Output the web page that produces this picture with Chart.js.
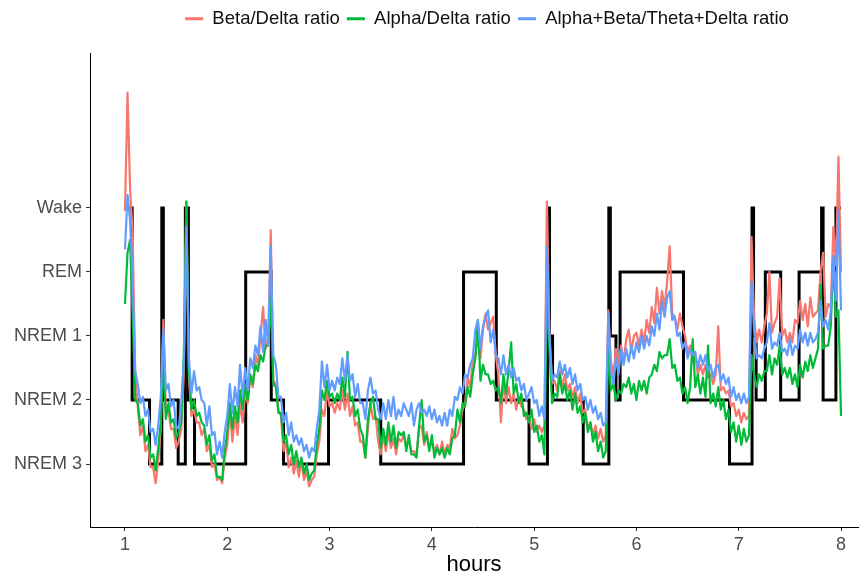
<!DOCTYPE html>
<html lang="en">
<head>
<meta charset="UTF-8">
<title>Sleep stages and EEG band ratios</title>
<script src="https://cdn.jsdelivr.net/npm/chart.js"></script>
<style>
  html, body { margin: 0; padding: 0; background: #fff; }
  #wrap { width: 868px; height: 574px; }
</style>
</head>
<body>
<div id="wrap"><canvas id="sleepChart" width="868" height="574"></canvas></div>
<script>
// y axis stages, bottom to top
var stageNames = ['NREM 3', 'NREM 2', 'NREM 1', 'REM', 'Wake'];
var hourTicks = [1, 2, 3, 4, 5, 6, 7, 8];

// hypnogram: time (hours) each stage starts
var stageHours = [1.00, 1.07, 1.24, 1.36, 1.375, 1.52, 1.59, 1.62, 1.68, 2.18,
                  2.43, 2.55, 2.99, 3.50, 4.31, 4.63, 4.95, 5.13, 5.15, 5.18,
                  5.48, 5.73, 5.745, 5.80, 5.84, 6.46, 6.91, 7.13, 7.145, 7.17,
                  7.26, 7.41, 7.59, 7.81, 7.825, 7.95, 8.00];
var stageSeq = ['Wake', 'NREM 2', 'NREM 3', 'Wake', 'NREM 2', 'NREM 3', 'Wake', 'NREM 2', 'NREM 3', 'REM',
                'NREM 2', 'NREM 3', 'NREM 2', 'NREM 3', 'REM', 'NREM 2', 'NREM 3', 'Wake', 'NREM 1', 'NREM 2',
                'NREM 3', 'Wake', 'NREM 1', 'NREM 2', 'REM', 'NREM 2', 'NREM 3', 'Wake', 'NREM 1', 'NREM 2',
                'REM', 'NREM 2', 'REM', 'Wake', 'NREM 2', 'Wake', 'Wake'];

// band ratios (on the stage scale), one sample every 1.5 min from hour 1
var sampleStart = 1;
var sampleStep = 0.025;

var betaDelta = [
  4.95, 6.80, 5.30, 4.60, 2.40, 1.90, 1.45, 1.60, 1.20, 1.30,
  0.95, 0.95, 0.70, 1.05, 1.55, 3.25, 1.80, 1.85, 1.55, 1.55,
  1.25, 1.35, 1.55, 2.40, 5.10, 2.35, 1.75, 1.85, 1.65, 1.65,
  1.45, 1.55, 1.20, 1.30, 0.95, 1.00, 0.75, 0.80, 0.70, 1.10,
  1.30, 1.85, 1.35, 1.75, 1.45, 1.95, 1.65, 2.10, 1.95, 2.35,
  2.20, 2.70, 2.55, 3.00, 3.45, 2.80, 2.95, 4.65, 2.30, 2.25,
  1.85, 1.75, 1.20, 1.35, 0.95, 1.10, 0.85, 1.05, 0.80, 1.05,
  0.75, 0.90, 0.65, 0.75, 0.80, 1.15, 1.35, 1.85, 1.75, 2.15,
  1.90, 1.95, 1.80, 1.95, 1.85, 2.15, 1.85, 2.10, 1.75, 1.90,
  1.60, 1.65, 1.35, 1.35, 1.10, 1.55, 1.95, 1.70, 1.75, 1.35,
  1.15, 1.45, 1.20, 1.50, 1.25, 1.40, 1.15, 1.40, 1.35, 1.45,
  1.30, 1.35, 1.20, 1.20, 1.15, 1.55, 1.60, 1.30, 1.50, 1.25,
  1.35, 1.20, 1.30, 1.15, 1.35, 1.15, 1.30, 1.25, 1.55, 1.40,
  1.45, 1.60, 1.85, 1.95, 2.35, 2.20, 2.60, 2.70, 2.95, 2.65,
  3.10, 3.35, 3.10, 3.20, 3.30, 2.70, 2.40, 1.65, 2.30, 1.95,
  2.20, 1.95, 2.10, 1.85, 2.05, 1.90, 1.85, 1.70, 1.75, 1.55,
  1.70, 1.50, 1.60, 1.50, 1.60, 5.10, 3.00, 2.25, 2.30, 2.15,
  2.45, 2.20, 2.40, 2.15, 2.25, 2.05, 2.20, 1.95, 2.10, 1.80,
  1.85, 1.55, 1.65, 1.45, 1.60, 1.40, 1.55, 1.35, 1.45, 3.40,
  2.60, 2.40, 2.80, 2.55, 2.85, 2.60, 2.95, 3.10, 2.75, 3.00,
  3.05, 2.85, 3.10, 2.90, 3.25, 3.05, 3.45, 3.20, 3.75, 3.35,
  3.70, 3.45, 3.85, 4.40, 3.35, 3.30, 3.10, 3.35, 3.15, 3.00,
  2.75, 2.85, 2.60, 2.70, 2.40, 2.55, 2.40, 2.55, 2.35, 2.40,
  2.25, 2.40, 3.15, 2.15, 2.20, 2.10, 2.15, 1.90, 1.95, 1.75,
  1.85, 1.65, 1.80, 1.70, 1.75, 4.55, 3.30, 2.90, 3.10, 2.90,
  3.15, 3.35, 4.00, 3.05, 3.20, 3.30, 3.90, 3.00, 3.10, 2.90,
  3.05, 2.90, 3.25, 3.20, 3.55, 3.25, 3.50, 3.15, 3.60, 3.30,
  3.35, 3.40, 4.00, 4.30, 3.30, 3.50, 3.45, 4.70, 4.10, 5.80,
  4.00
];

var alphaDelta = [
  3.50, 4.30, 4.50, 3.30, 2.00, 1.95, 1.60, 1.70, 1.35, 1.45,
  1.10, 1.15, 0.90, 1.25, 1.65, 2.60, 1.70, 1.95, 1.65, 1.70,
  1.40, 1.50, 1.65, 2.70, 5.10, 2.45, 1.85, 2.00, 1.75, 1.80,
  1.65, 1.60, 1.30, 1.45, 1.05, 1.15, 0.80, 0.80, 0.75, 1.20,
  1.50, 1.95, 1.55, 1.90, 1.65, 2.15, 1.85, 2.25, 2.00, 2.40,
  2.25, 2.55, 2.45, 2.70, 2.60, 2.85, 2.85, 3.60, 2.25, 2.20,
  1.80, 1.80, 1.35, 1.45, 1.15, 1.30, 1.00, 1.20, 0.95, 1.10,
  0.85, 1.00, 0.75, 0.85, 0.90, 1.30, 1.55, 2.15, 2.00, 2.30,
  2.05, 2.10, 1.95, 2.10, 2.00, 2.35, 2.05, 2.75, 2.00, 2.05,
  1.75, 1.85, 1.55, 1.45, 1.10, 1.70, 1.95, 2.05, 1.70, 1.70,
  1.25, 1.55, 1.30, 1.65, 1.35, 1.60, 1.25, 1.50, 1.45, 1.50,
  1.20, 1.45, 1.15, 1.15, 1.10, 1.60, 2.00, 1.35, 1.45, 1.20,
  1.45, 1.10, 1.25, 1.15, 1.25, 1.10, 1.25, 1.15, 1.40, 1.45,
  1.85, 1.65, 1.95, 1.90, 2.20, 2.05, 2.40, 2.65, 3.25, 2.30,
  2.55, 2.40, 2.40, 2.25, 2.30, 2.15, 2.20, 1.95, 2.40, 2.10,
  2.45, 2.90, 2.10, 2.25, 1.95, 2.10, 1.75, 1.80, 1.65, 1.85,
  1.50, 1.60, 1.35, 1.45, 1.15, 3.70, 2.80, 1.95, 2.10, 2.05,
  2.40, 2.10, 2.25, 2.00, 2.15, 1.85, 2.10, 1.80, 1.90, 1.65,
  1.80, 1.50, 1.65, 1.35, 1.50, 1.20, 1.35, 1.10, 1.20, 2.80,
  2.15, 2.25, 2.00, 2.15, 2.10, 2.25, 2.20, 2.35, 2.10, 2.25,
  2.00, 2.30, 2.15, 2.30, 2.10, 2.35, 2.40, 2.55, 2.45, 2.75,
  2.65, 2.70, 2.70, 2.95, 2.50, 2.55, 2.30, 2.35, 2.10, 2.20,
  1.95, 2.20, 2.95, 2.20, 2.40, 2.10, 2.35, 2.05, 2.85, 1.95,
  2.10, 1.90, 2.20, 1.85, 2.00, 1.70, 1.85, 1.50, 1.65, 1.35,
  1.60, 1.30, 1.55, 1.35, 1.45, 2.70, 2.40, 2.20, 2.40, 2.30,
  2.45, 2.45, 2.70, 2.40, 2.65, 2.55, 2.85, 2.40, 2.50, 2.35,
  2.50, 2.25, 2.40, 2.20, 2.55, 2.35, 2.60, 2.45, 2.70, 2.50,
  2.65, 2.80, 3.80, 2.80, 2.85, 2.85, 3.15, 4.20, 3.30, 3.40,
  1.75
];

var mixedRatio = [
  4.35, 5.20, 4.80, 3.90, 2.45, 2.25, 1.95, 2.05, 1.75, 1.85,
  1.50, 1.55, 1.30, 1.60, 2.05, 3.10, 2.15, 2.25, 1.90, 2.00,
  1.60, 1.55, 1.95, 2.60, 4.70, 2.65, 2.10, 2.45, 2.15, 2.20,
  2.00, 1.95, 1.60, 1.90, 1.45, 1.50, 1.15, 1.35, 1.10, 1.50,
  1.75, 2.25, 1.80, 2.20, 1.90, 2.55, 2.05, 2.50, 2.15, 2.65,
  2.50, 2.85, 2.70, 3.15, 2.75, 3.25, 2.85, 4.40, 2.70, 2.55,
  2.05, 2.05, 1.65, 1.80, 1.45, 1.65, 1.35, 1.45, 1.30, 1.40,
  1.20, 1.30, 1.10, 1.25, 1.20, 1.55, 1.85, 2.60, 2.20, 2.55,
  2.15, 2.30, 2.15, 2.35, 2.25, 2.65, 2.30, 2.70, 2.30, 2.40,
  2.05, 2.25, 1.95, 1.95, 1.70, 2.15, 2.35, 2.10, 2.15, 1.85,
  1.70, 1.95, 1.70, 2.00, 1.75, 2.05, 1.70, 1.85, 1.75, 1.95,
  1.85, 1.75, 1.95, 1.60, 1.85, 1.95, 1.80, 1.85, 1.75, 1.90,
  1.70, 1.85, 1.65, 1.75, 1.60, 1.80, 1.60, 1.85, 1.75, 2.05,
  2.00, 2.20, 2.10, 2.40, 2.35, 2.55, 2.65, 3.10, 3.25, 2.80,
  3.15, 3.30, 3.40, 2.90, 3.10, 2.70, 2.65, 2.40, 2.70, 2.40,
  2.55, 2.35, 2.50, 2.30, 2.35, 2.15, 2.25, 2.00, 2.10, 2.20,
  1.95, 2.00, 1.75, 1.90, 1.70, 4.40, 3.00, 2.30, 2.40, 2.35,
  2.60, 2.40, 2.55, 2.35, 2.50, 2.25, 2.40, 2.15, 2.25, 2.00,
  2.05, 1.85, 2.00, 1.80, 1.90, 1.70, 1.80, 1.60, 1.65, 3.35,
  2.45, 2.25, 2.65, 2.40, 2.80, 2.55, 2.80, 2.60, 2.85, 2.65,
  2.90, 2.75, 3.00, 2.80, 3.00, 2.85, 3.15, 3.00, 3.35, 3.10,
  3.55, 3.30, 3.60, 3.70, 3.25, 3.30, 3.00, 3.05, 2.80, 2.90,
  2.65, 2.80, 2.70, 2.75, 2.50, 2.70, 2.55, 2.70, 2.45, 2.55,
  2.35, 2.50, 2.55, 2.30, 2.40, 2.25, 2.35, 2.05, 2.20, 2.00,
  2.10, 1.95, 2.10, 1.95, 2.05, 3.85, 3.10, 2.65, 2.70, 2.65,
  2.80, 2.90, 3.20, 2.80, 2.90, 2.85, 3.05, 2.75, 2.80, 2.70,
  2.95, 2.70, 2.85, 2.80, 3.10, 2.90, 3.05, 2.85, 3.05, 2.90,
  2.95, 3.05, 3.55, 3.15, 3.25, 3.10, 3.40, 4.25, 3.55, 4.95,
  3.40
];

var fontFamily = '"Liberation Sans", Arial, Helvetica, sans-serif';
Chart.defaults.font.family = fontFamily;

function toPoints(values) {
    return values.map(function (v, i) {
        return { x: sampleStart + i * sampleStep, y: v };
    });
}

var hypnoPoints = stageHours.map(function (h, i) {
    return { x: h, y: stageNames.indexOf(stageSeq[i]) + 1 };
});

// move the legend to where ggplot put it (centred over the panel, near the top edge)
var legendNudge = {
    id: 'legendNudge',
    afterLayout: function (chart) {
        var lg = chart.legend;
        lg.left += 58; lg.right += 58;
        lg.top -= 15; lg.bottom -= 15;
    }
};

var ctx = document.getElementById('sleepChart').getContext('2d');
var sleepChart = new Chart(ctx, {
    type: 'line',
    data: {
        datasets: [{
            label: 'Beta/Delta ratio',
            data: toPoints(betaDelta),
            borderColor: '#F8766D',
            backgroundColor: '#F8766D',
            borderWidth: 2.2,
            borderJoinStyle: 'round',
            pointRadius: 0,
            order: 2
        }, {
            label: 'Alpha/Delta ratio',
            data: toPoints(alphaDelta),
            borderColor: '#00BA38',
            backgroundColor: '#00BA38',
            borderWidth: 2.2,
            borderJoinStyle: 'round',
            pointRadius: 0,
            order: 1
        }, {
            label: 'Alpha+Beta/Theta+Delta ratio',
            data: toPoints(mixedRatio),
            borderColor: '#619CFF',
            backgroundColor: '#619CFF',
            borderWidth: 2.2,
            borderJoinStyle: 'round',
            pointRadius: 0,
            order: 0
        }, {
            label: 'Hypnogram',
            data: hypnoPoints,
            borderColor: '#000000',
            backgroundColor: '#000000',
            borderWidth: 3,
            stepped: true,
            pointRadius: 0,
            order: 3
        }]
    },
    options: {
        responsive: false,
        animation: false,
        layout: { padding: { top: 17.5, right: 10, bottom: 0, left: 0 } },
        plugins: {
            legend: {
                position: 'top',
                labels: {
                    boxWidth: 18,
                    boxHeight: 3,
                    padding: 7,
                    color: '#111111',
                    font: { size: 18.5 },
                    filter: function (item) { return item.datasetIndex < 3; },
                    sort: function (a, b) { return a.datasetIndex - b.datasetIndex; },
                    generateLabels: function (chart) {
                        var items = Chart.defaults.plugins.legend.labels.generateLabels(chart);
                        items.forEach(function (it) { it.lineWidth = 0; it.fillStyle = it.strokeStyle; });
                        return items;
                    }
                }
            },
            tooltip: { enabled: false }
        },
        scales: {
            x: {
                type: 'linear',
                min: 0.658,
                max: 8.166,
                afterBuildTicks: function (scale) {
                    scale.ticks = hourTicks.map(function (v) { return { value: v }; });
                },
                afterFit: function (scale) { scale.height = 47; },
                ticks: { color: '#4D4D4D', font: { size: 18 }, padding: 3, maxRotation: 0 },
                grid: { drawOnChartArea: false, tickLength: 4, tickColor: '#333333' },
                border: { color: '#000000', width: 1 },
                title: {
                    display: true,
                    text: 'hours',
                    color: '#000000',
                    font: { size: 22, lineHeight: 0.8 },
                    padding: 0
                }
            },
            y: {
                type: 'linear',
                min: 0.016,
                max: 7.42,
                afterBuildTicks: function (scale) {
                    scale.ticks = stageNames.map(function (n, i) { return { value: i + 1 }; });
                },
                afterFit: function (scale) { scale.width = 90; },
                ticks: {
                    color: '#4D4D4D',
                    font: { size: 18 },
                    padding: 4,
                    callback: function (value) { return stageNames[value - 1]; }
                },
                grid: { drawOnChartArea: false, tickLength: 4, tickColor: '#333333' },
                border: { color: '#000000', width: 1 }
            }
        }
    },
    plugins: [legendNudge]
});
</script>
</body>
</html>
